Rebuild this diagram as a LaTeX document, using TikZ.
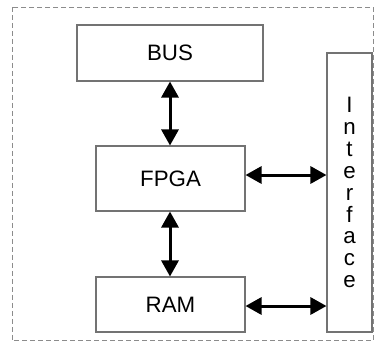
\documentclass[tikz,border=0pt]{standalone}
\usepackage{fontspec}
\setmainfont{Liberation Sans}
\usetikzlibrary{arrows.meta}
\begin{document}
\begin{tikzpicture}[x=0.02cm,y=-0.02cm,
  block/.style={draw=black!55,line width=0.6pt,fill=white,inner sep=0pt,
    font=\fontsize{12.7}{12.5}\selectfont},
  link/.style={line width=0.06cm,{Triangle[length=0.32cm,width=0.34cm]}-{Triangle[length=0.32cm,width=0.34cm]}},
  frame/.style={draw=black!45,line width=0.5pt,dash pattern=on 0.1cm off 0.06cm}]
  \useasboundingbox (0,0) rectangle (375,342);
  % outer dashed enclosure
  \draw[frame] (12,7) rectangle (373.5,340.5);
  % blocks
  \node[block,minimum width=186*0.02cm,minimum height=56*0.02cm] (bus) at (170,53) {BUS};
  \node[block,minimum width=149*0.02cm,minimum height=65*0.02cm] (fpga) at (170.5,178.5) {FPGA};
  \node[block,minimum width=149*0.02cm,minimum height=55*0.02cm] (ram) at (170.5,304.5) {RAM};
  \node[block,minimum width=45*0.02cm,minimum height=279*0.02cm,align=center] (iface) at (349.5,192.5)
    {I\\n\\t\\e\\r\\f\\a\\c\\e};
  % bidirectional links
  \draw[link] (bus.south) -- (bus.south |- fpga.north);
  \draw[link] (fpga.south -| bus.south) -- (ram.north -| bus.south);
  \coordinate (fpr) at ([yshift=0.07cm]fpga.east);
  \draw[link] (fpr) -- (fpr -| iface.west);
  \coordinate (rmr) at ([yshift=-0.03cm]ram.east);
  \draw[link] (rmr) -- (rmr -| iface.west);
\end{tikzpicture}
\end{document}
